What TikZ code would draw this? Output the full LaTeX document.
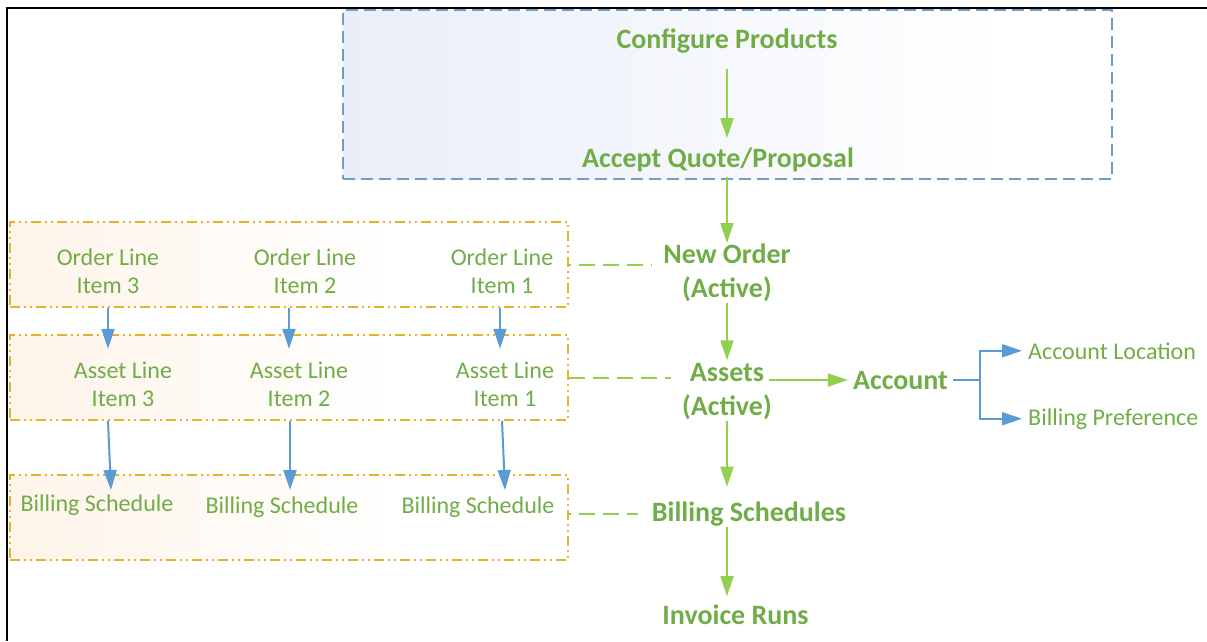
\documentclass[tikz,border=0pt]{standalone}
\usepackage{fontspec}
\setmainfont{Carlito}
\usetikzlibrary{arrows.meta,positioning}
\definecolor{leafgreen}{HTML}{70AD47}
\definecolor{flowgreen}{HTML}{92D050}
\definecolor{linkblue}{HTML}{5B9BD5}
\definecolor{frameblue}{HTML}{6F9CC8}
\definecolor{framegold}{HTML}{E4B32A}
\definecolor{fadeorange}{HTML}{FEF4E9}
\definecolor{fadeblue}{HTML}{E9EEF8}
\pgfdeclarehorizontalshading{orangefade}{100bp}{color(0bp)=(fadeorange); color(25bp)=(fadeorange); color(60bp)=(white); color(100bp)=(white)}
\pgfdeclarehorizontalshading{bluefade}{100bp}{color(0bp)=(fadeblue); color(25bp)=(fadeblue); color(68bp)=(white); color(100bp)=(white)}
\tikzset{
  stage/.style={
    font = \fontsize{28}{33.5}\selectfont\bfseries,
    text = leafgreen,
    inner sep = 1pt,
    align = center
  },
  lineitem/.style={
    font = \fontsize{24}{28}\selectfont,
    text = leafgreen,
    inner sep = 1pt,
    align = center
  },
  flow/.style={
    draw = flowgreen,
    line width = 2pt,
    -{Triangle[length=20pt,width=13pt]}
  },
  link/.style={
    draw = linkblue,
    line width = 2pt,
    -{Triangle[length=20pt,width=13pt]}
  },
  tie/.style={
    draw = flowgreen,
    line width = 2pt,
    dash pattern = on 16pt off 8pt,
    dash phase = 14pt
  },
  itemgroup/.style={
    draw = framegold,
    line width = 1.5pt,
    dash pattern = on 10pt off 4pt on 2pt off 4pt on 2pt off 4pt,
    shade, shading = orangefade,
    inner sep = 0pt,
    minimum width = 558pt,
    minimum height = 85pt
  },
  quotebox/.style={
    draw = frameblue,
    line width = 1.5pt,
    dash pattern = on 12pt off 6pt,
    shade, shading = bluefade,
    inner sep = 0pt
  }
}
\begin{document}
\begin{tikzpicture}[x=1pt,y=-1pt]
    \useasboundingbox (0,0) rectangle (1207,641);
    \draw[line width=1.5pt] (7,641) -- (7,8) -- (1207,8);

    % quote stage
    \node[quotebox, minimum width=769pt, minimum height=169pt] (quote) at (727.5,94.5) {};
    \node[stage, anchor=base] (conf) at (727,48) {Configure Products};
    \node[stage, anchor=base] (accept) at (718,167) {Accept Quote/Proposal};

    % main column
    \node[stage] (neworder) at (727,273) {New Order\\(Active)};
    \node[stage] (assets) at (727,391.5) {Assets\\(Active)};
    \node[stage, anchor=base] (account) at (900.5,389) {Account};
    \node[lineitem, anchor=base west] (loc) at (1027,359) {Account Location};
    \node[lineitem, anchor=base west] (pref) at (1027,425) {Billing Preference};
    \node[stage, anchor=base] (sched) at (749,521.5) {Billing Schedules};
    \node[stage, anchor=base] (invoice) at (735.5,624) {Invoice Runs};

    % line items
    \node[itemgroup] (orders) at (289,264.5) {};
    \node[itemgroup] (assetrow) at (289,377.5) {};
    \node[itemgroup] (billrow) at (289,517.5) {};

    \node[lineitem] (o3) at (108,271) {Order Line\\Item 3};
    \node[lineitem] (o2) at (305,271) {Order Line\\Item 2};
    \node[lineitem] (o1) at (502,271) {Order Line\\Item 1};

    \node[lineitem] (a3) at (123,384) {Asset Line\\Item 3};
    \node[lineitem] (a2) at (299,384) {Asset Line\\Item 2};
    \node[lineitem] (a1) at (505,384) {Asset Line\\Item 1};

    \node[lineitem, anchor=base] (b3) at (97,511.7) {Billing Schedule};
    \node[lineitem, anchor=base] (b2) at (282,513) {Billing Schedule};
    \node[lineitem, anchor=base] (b1) at (478,513) {Billing Schedule};

    \foreach \xa/\xb/\xc in {108/108/111, 289/290/290, 500/502/505}{
      \draw[link] (\xa,0 |- orders.south) -- ++(0,41);
      \draw[link] (\xb,0 |- assetrow.south) -- (\xc,490);
    }

    % flow
    \draw[flow, shorten <=15pt, shorten >=8pt] (conf.south) -- (conf.south |- accept.north);
    \draw[flow, shorten <=4pt] (conf.south |- accept.south) -- (neworder.north);
    \draw[flow, shorten >=2pt] (neworder.south) -- (assets.north);
    \draw[flow, shorten >=14pt] (assets.south) -- (assets.south |- sched.north);
    \draw[flow, shorten >=7pt] (assets.south |- sched.south) -- (assets.south |- invoice.north);
    \draw[flow, shorten <=-4pt, shorten >=4pt] (assets.east |- account) -- (account.west);

    \draw[link, shorten <=4pt, shorten >=5pt] (account.east) -- ++(31,0) |- (loc.west);
    \draw[link, shorten <=4pt, shorten >=5pt] (account.east) -- ++(31,0) |- (pref.west);

    % ties to the rows
    \draw[tie, shorten >=10pt] (orders.east) -- (orders.east -| neworder.west);
    \draw[tie, shorten >=10pt, dash phase=0pt] (assetrow.east) -- (assetrow.east -| assets.west);
    \draw[tie, shorten >=13pt] (billrow.east |- sched) -- (sched.west);
\end{tikzpicture}
\end{document}
